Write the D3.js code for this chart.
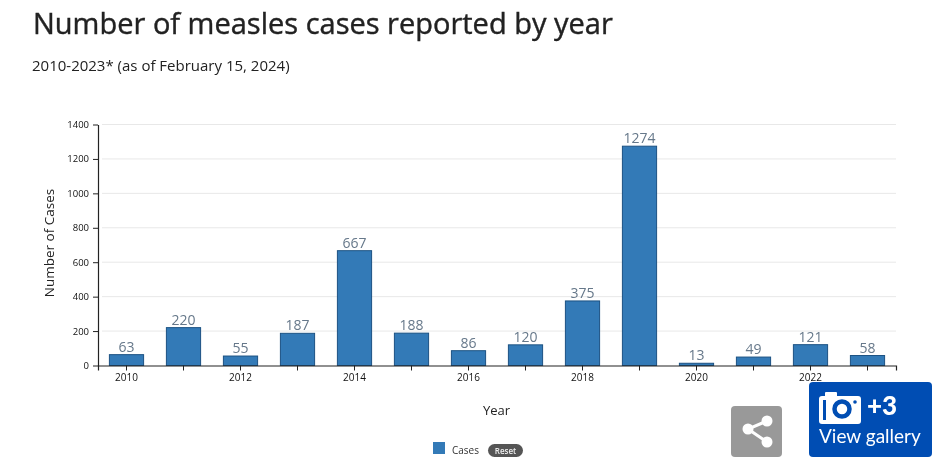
<!DOCTYPE html>
<html>
<head>
<meta charset="utf-8">
<script src="https://cdn.jsdelivr.net/npm/d3@7"></script>
<style>
  html, body { margin: 0; padding: 0; background: #fff; }
  svg { display: block; font-family: "Open Sans", sans-serif; }
  .soft { filter: blur(0.5px); }
  .soft-head { filter: blur(0.35px); }
</style>
</head>
<body>
<svg id="chart" width="939" height="469"></svg>
<script>
const years = [2010, 2011, 2012, 2013, 2014, 2015, 2016, 2017, 2018, 2019, 2020, 2021, 2022, 2023];
const cases = [63, 220, 55, 187, 667, 188, 86, 120, 375, 1274, 13, 49, 121, 58];
const yTicks = [0, 200, 400, 600, 800, 1000, 1200, 1400];
const labelledYears = [2010, 2012, 2014, 2016, 2018, 2020, 2022];

const titleText = "Number of measles cases reported by year";
const subtitleText = "2010-2023* (as of February 15, 2024)";

const svg = d3.select("#chart");
const plot = { left: 98, right: 896, top: 124.5, bottom: 365.5 };

const x = d3.scaleBand().domain(years).range([plot.left, plot.right]).paddingInner(0.4).paddingOuter(0.2);
const y = d3.scaleLinear().domain([0, 1400]).range([plot.bottom, plot.top]);

// Headline and date range
const head = svg.append("g").attr("class", "soft-head");
head.append("text").attr("x", 33).attr("y", 34)
  .attr("font-size", 29).attr("fill", "#222").attr("stroke", "#222").attr("stroke-width", 0.4).text(titleText);
head.append("text").attr("x", 32).attr("y", 71)
  .attr("font-size", 15).attr("fill", "#222").text(subtitleText);

const chart = svg.append("g").attr("class", "soft");

// Horizontal grid
chart.append("g").selectAll("line").data(yTicks.slice(1)).join("line")
  .attr("x1", plot.left + 4).attr("x2", plot.right)
  .attr("y1", d => y(d)).attr("y2", d => y(d))
  .attr("stroke", "#e8e8e8").attr("stroke-width", 1);

// Bars
chart.append("g").selectAll("rect").data(years).join("rect")
  .attr("x", d => x(d))
  .attr("width", x.bandwidth())
  .attr("y", (d, i) => y(cases[i]))
  .attr("height", (d, i) => y(0) - y(cases[i]))
  .attr("fill", "#337ab7")
  .attr("stroke", "#1c5283")
  .attr("stroke-width", 1);

// Value labels
chart.append("g").selectAll("text").data(years).join("text")
  .attr("x", d => x(d) + x.bandwidth() / 2)
  .attr("y", (d, i) => y(cases[i]) - 3)
  .attr("text-anchor", "middle")
  .attr("font-size", 14)
  .attr("fill", "#66788a")
  .text((d, i) => cases[i]);

// Axes
const xAxis = d3.axisBottom(x)
  .tickFormat(d => labelledYears.includes(d) ? d : "")
  .tickSize(5).tickPadding(3);
const xG = chart.append("g").attr("transform", `translate(0,${plot.bottom})`).call(xAxis);
xG.selectAll("text").attr("font-size", 10).attr("font-family", "Open Sans").attr("fill", "#111");
xG.selectAll("line").attr("stroke", "#222");
xG.select(".domain").attr("stroke", "#222").attr("stroke-width", 1.2);

const yAxis = d3.axisLeft(y).tickValues(yTicks).tickFormat(d3.format("d"))
  .tickSize(5).tickPadding(4).tickSizeOuter(0);
const yG = chart.append("g").attr("transform", `translate(${plot.left},0)`).call(yAxis);
yG.selectAll("text").attr("font-size", 9.5).attr("font-family", "Open Sans").attr("fill", "#111");
yG.selectAll("line").attr("stroke", "#222");
yG.select(".domain").attr("stroke", "#222").attr("stroke-width", 1.2);

// Axis titles
chart.append("text")
  .attr("transform", "translate(54,243) rotate(-90)")
  .attr("text-anchor", "middle").attr("font-size", 13.5).attr("fill", "#222")
  .text("Number of Cases");
chart.append("text")
  .attr("x", 496.5).attr("y", 415)
  .attr("text-anchor", "middle").attr("font-size", 13).attr("fill", "#222")
  .text("Year");

// Legend with reset pill
chart.append("rect").attr("x", 433).attr("y", 442).attr("width", 12).attr("height", 12).attr("fill", "#337ab7");
chart.append("text").attr("x", 452).attr("y", 454).attr("font-size", 10).attr("fill", "#333").text("Cases");
chart.append("rect").attr("x", 488).attr("y", 444).attr("width", 35).attr("height", 13).attr("rx", 6.5).attr("fill", "#555");
chart.append("text").attr("x", 505.5).attr("y", 454).attr("text-anchor", "middle")
  .attr("font-size", 8).attr("font-weight", 600).attr("fill", "#eee").text("Reset");

// Share button
const share = svg.append("g");
share.append("rect").attr("x", 731).attr("y", 406).attr("width", 51).attr("height", 51).attr("rx", 4).attr("fill", "#999");
const nodes = [[767, 421], [748, 429], [767, 442]];
share.append("path")
  .attr("d", d3.line()(nodes))
  .attr("fill", "none").attr("stroke", "#fff").attr("stroke-width", 3);
share.selectAll("circle").data(nodes).join("circle")
  .attr("cx", d => d[0]).attr("cy", d => d[1]).attr("r", 5.5).attr("fill", "#fff");

// Gallery button
const gallery = svg.append("g");
gallery.append("rect").attr("x", 809).attr("y", 382).attr("width", 123).attr("height", 75).attr("rx", 4).attr("fill", "#004db3");
gallery.append("path")
  .attr("d", "M822 396h3v-3a1 1 0 0 1 1-1h10a1 1 0 0 1 1 1v3h21a3 3 0 0 1 3 3v22a3 3 0 0 1-3 3h-36a3 3 0 0 1-3-3v-22a3 3 0 0 1 3-3z")
  .attr("fill", "#fff");
gallery.append("rect").attr("x", 823).attr("y", 400).attr("width", 3).attr("height", 20).attr("fill", "#004db3");
gallery.append("circle").attr("cx", 842).attr("cy", 409).attr("r", 7.5)
  .attr("fill", "#fff").attr("stroke", "#004db3").attr("stroke-width", 4.5);
gallery.append("circle").attr("cx", 855).attr("cy", 402).attr("r", 1.8).attr("fill", "#004db3");
gallery.append("text").attr("x", 867).attr("y", 415).attr("font-family", "Lato")
  .attr("font-size", 26).attr("font-weight", 900).attr("fill", "#fff").text("+3");
gallery.append("text").attr("x", 819).attr("y", 443).attr("font-family", "Lato")
  .attr("font-size", 19).attr("fill", "#fff").text("View gallery");
</script>
</body>
</html>
